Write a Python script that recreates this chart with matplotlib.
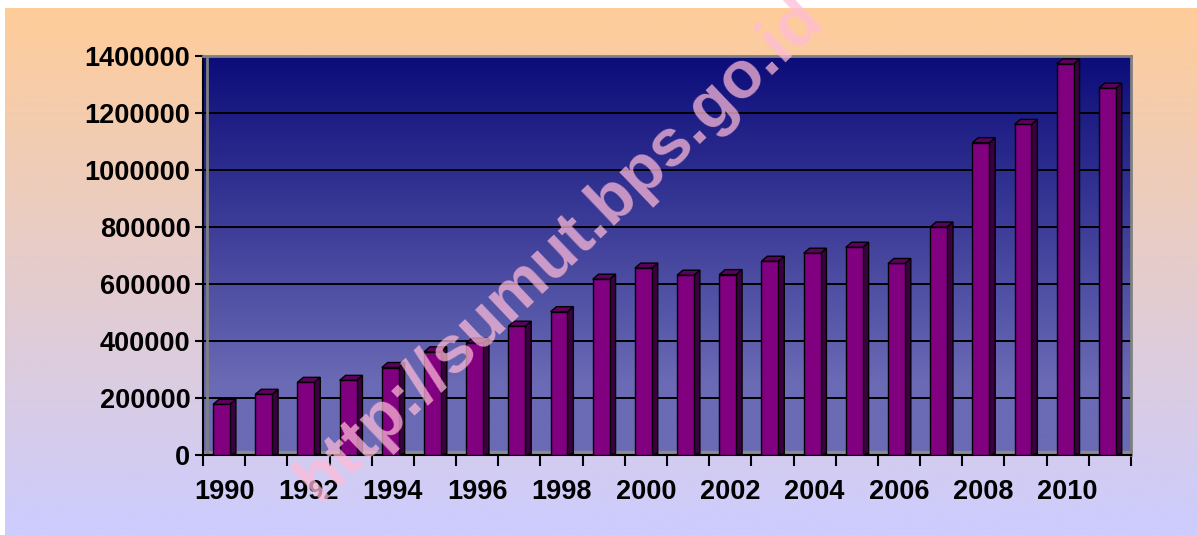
import numpy as np
import matplotlib
matplotlib.use('Agg')
import matplotlib.pyplot as plt
from matplotlib.patches import Polygon

# Data
years = list(range(1990, 2012))
values = [178000, 213000, 255000, 262000, 307000, 362000, 393000, 452000,
          503000, 617000, 656000, 631000, 633000, 680000, 708000, 729000,
          672000, 800000, 1096000, 1160000, 1372000, 1287000]
year_labels = [str(y) for y in years[::2]]

W, H = 1197, 535
fig = plt.figure(figsize=(W / 100, H / 100), dpi=100, facecolor='white')

# chart area background gradient (peach -> lavender)
bg = fig.add_axes([5 / W, 0, 1 - 5 / W, 1 - 8 / H])
top_c = np.array([255, 204, 153]) / 255
bot_c = np.array([204, 204, 255]) / 255
t = np.linspace(0, 1, 256)[:, None]
grad = (1 - t) * top_c + t * bot_c
bg.imshow(grad[:, None, :], aspect='auto', extent=[0, 1, 0, 1])
bg.set_axis_off()

# plot area
left, right, top, bottom = 203, 1131, 56, 455
ax = fig.add_axes([left / W, 1 - bottom / H, (right - left) / W, (bottom - top) / H])
n = len(years)
x = np.arange(n)
ax.set_xlim(-0.5, n - 0.5)
ax.set_ylim(0, 1400000)

# back wall gradient
wall_top = np.array([12, 12, 122]) / 255
wall_bot = np.array([106, 106, 181]) / 255
s = np.clip(np.linspace(0, 1, 256) / 0.82, 0, 1)[:, None]
wall = (1 - s) * wall_top + s * wall_bot
ax.imshow(wall[:, None, :], aspect='auto', extent=[-0.5, n - 0.5, 0, 1400000],
          zorder=0)

ax.set_yticks(np.arange(0, 1400001, 200000))
ax.set_yticklabels([str(v) for v in range(0, 1400001, 200000)])
ax.grid(axis='y', color='black', linewidth=1.4, zorder=1)
ax.set_axisbelow(True)

# floor
ax.axhspan(0, 14000, color='#8c8c8c', zorder=1.5)

# 3D-ish bars
bw = 0.40
dx = 0.14
dy = 17500
fronts = ax.bar(x - 0.06, values, width=bw, color='#800080', edgecolor='black',
                linewidth=1.0, zorder=3)
for rect, v in zip(fronts, values):
    l = rect.get_x()
    r = l + rect.get_width()
    side = Polygon([(r, 0), (r + dx, dy * 0.3), (r + dx, v + dy), (r, v)],
                   closed=True, facecolor='#3a003f', edgecolor='black',
                   linewidth=1.0, zorder=2.9)
    cap = Polygon([(l, v), (l + dx, v + dy), (r + dx, v + dy), (r, v)],
                  closed=True, facecolor='#5e005e', edgecolor='black',
                  linewidth=1.0, zorder=3.1)
    ax.add_patch(side)
    ax.add_patch(cap)

# x ticks at category borders, labels every second year
ax.set_xticks(np.arange(-0.5, n, 1.0))
ax.set_xticklabels([])
ax.set_xticks(x[::2], minor=True)
ax.set_xticklabels(year_labels, minor=True)
ax.tick_params(axis='x', which='major', direction='out', length=8, width=1.5,
               color='black')
ax.tick_params(axis='x', which='minor', length=0, pad=17)
ax.tick_params(axis='y', direction='out', length=6, width=1.5, pad=3)

for lab in ax.get_xticklabels(minor=True) + ax.get_yticklabels():
    lab.set_fontfamily('Liberation Sans')
    lab.set_fontweight('bold')
    lab.set_fontsize(19.5)
    lab.set_color('black')

ax.spines['left'].set_color('black')
ax.spines['left'].set_linewidth(1.5)
ax.spines['bottom'].set_color('black')
ax.spines['bottom'].set_linewidth(1.5)
ax.spines['top'].set_color('#808080')
ax.spines['top'].set_linewidth(2)
ax.spines['right'].set_color('#808080')
ax.spines['right'].set_linewidth(2)
ax.axvline(-0.5 + 0.1, color='#808080', linewidth=2, zorder=1.6)

# watermark
fig.text(560 / W, 1 - 250 / H, 'http://sumut.bps.go.id', rotation=43.6,
         ha='center', va='center', fontsize=48, fontweight='bold',
         family='Liberation Sans', color=(1.0, 0.733, 0.847), alpha=0.73,
         zorder=10)

fig.savefig('out.png', dpi=100, facecolor='white')
